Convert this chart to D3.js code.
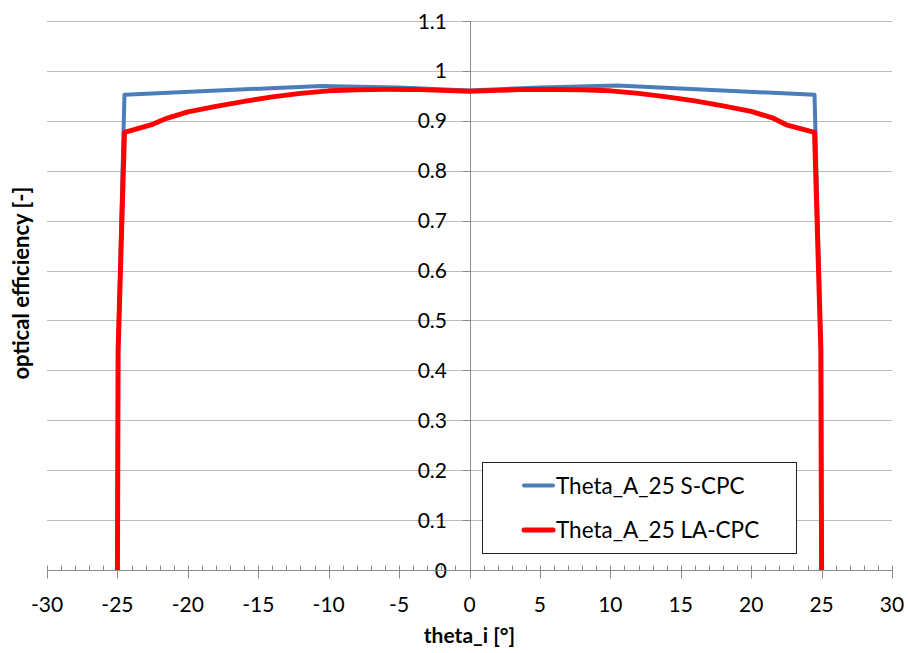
<!DOCTYPE html>
<html>
<head>
<meta charset="utf-8">
<script src="https://cdn.jsdelivr.net/npm/d3@7"></script>
<style>
  html, body { margin: 0; padding: 0; background: #fff; }
  svg { display: block; font-family: Lato, "Open Sans", "Liberation Sans", sans-serif; }
</style>
</head>
<body>
<svg id="chart" width="908" height="653"></svg>
<script>
// Incidence angle (deg) and optical efficiency for each concentrator
const sCpcTheta = [-25, -24.95, -24.5, -10.5, -5, 0, 5, 10.5, 24.5, 24.95, 25];
const sCpcEff   = [0, 0.44, 0.952, 0.970, 0.967, 0.961, 0.967, 0.971, 0.952, 0.44, 0];

const laCpcTheta = [-25, -24.95, -24.5, -22.5, -21.5, -20, -18, -16, -14, -12, -10, -8, -6, -4, -2, 0,
                    2, 4, 6, 8, 10, 12, 14, 16, 18, 20, 21.5, 22.5, 24.5, 24.95, 25];
const laCpcEff   = [0, 0.44, 0.877, 0.893, 0.905, 0.918, 0.929, 0.939, 0.948, 0.955, 0.960, 0.962, 0.963, 0.963, 0.961, 0.959,
                    0.961, 0.963, 0.963, 0.962, 0.960, 0.955, 0.948, 0.940, 0.930, 0.919, 0.906, 0.892, 0.877, 0.44, 0];

const xTicks = [-30, -25, -20, -15, -10, -5, 0, 5, 10, 15, 20, 25, 30];
const yTicks = [0, 0.1, 0.2, 0.3, 0.4, 0.5, 0.6, 0.7, 0.8, 0.9, 1, 1.1];

const seriesNames = ["Theta_A_25 S-CPC", "Theta_A_25 LA-CPC"];
const seriesColors = ["#4a7ebb", "#ff0000"];

const svg = d3.select("#chart");
const x = d3.scaleLinear().domain([-30, 30]).range([47, 892]);
const y = d3.scaleLinear().domain([0, 1.1]).range([570, 21]);

// horizontal gridlines
svg.append("g").selectAll("line").data(yTicks.filter(d => d > 0)).join("line")
  .attr("x1", x(-30)).attr("x2", x(30))
  .attr("y1", d => Math.round(y(d)) + 0.5).attr("y2", d => Math.round(y(d)) + 0.5)
  .attr("stroke", "#bcbcbc").attr("stroke-width", 1);

// y axis line at theta = 0
const y0x = Math.round(x(0)) + 0.5;
svg.append("line").attr("x1", y0x).attr("x2", y0x)
  .attr("y1", y(1.1)).attr("y2", y(0))
  .attr("stroke", "#8c8c8c").attr("stroke-width", 1);
svg.append("g").selectAll("line").data(yTicks).join("line")
  .attr("x1", y0x - 8).attr("x2", y0x)
  .attr("y1", d => Math.round(y(d)) + 0.5).attr("y2", d => Math.round(y(d)) + 0.5)
  .attr("stroke", "#8c8c8c");
svg.append("g").selectAll("text").data(yTicks).join("text")
  .attr("x", 447).attr("y", d => y(d))
  .attr("dy", "0.36em")
  .attr("text-anchor", "end")
  .attr("font-size", 21).attr("fill", "#000")
  .text(d => d3.format("~g")(d));

// x axis at efficiency = 0
const axY = Math.round(y(0)) + 0.5;
svg.append("line").attr("x1", x(-30)).attr("x2", x(30))
  .attr("y1", axY).attr("y2", axY)
  .attr("stroke", "#8c8c8c");
svg.append("g").selectAll("line").data(d3.range(-30, 31).filter(d => d % 5 !== 0)).join("line")
  .attr("x1", d => Math.round(x(d)) + 0.5).attr("x2", d => Math.round(x(d)) + 0.5)
  .attr("y1", axY - 5).attr("y2", axY)
  .attr("stroke", "#8c8c8c");
svg.append("g").selectAll("line").data(xTicks).join("line")
  .attr("x1", d => Math.round(x(d)) + 0.5).attr("x2", d => Math.round(x(d)) + 0.5)
  .attr("y1", axY - 5).attr("y2", axY + 8)
  .attr("stroke", "#8c8c8c");
svg.append("g").selectAll("text").data(xTicks).join("text")
  .attr("x", d => x(d)).attr("y", 612)
  .attr("text-anchor", "middle")
  .attr("font-size", 21).attr("fill", "#000")
  .text(d => d);

// axis titles
svg.append("text").attr("x", x(0)).attr("y", 643)
  .attr("text-anchor", "middle").attr("font-size", 21).attr("font-weight", "bold")
  .text("theta_i [°]");
svg.append("text")
  .attr("transform", `translate(29, ${y(0.575)}) rotate(-90)`)
  .attr("text-anchor", "middle").attr("font-size", 22).attr("font-weight", "bold")
  .text("optical efficiency [-]");

// series
const line = d3.line().x(d => x(d[0])).y(d => y(d[1]));
const series = [
  d3.zip(sCpcTheta, sCpcEff),
  d3.zip(laCpcTheta, laCpcEff)
];
const widths = [4, 5];
series.forEach((pts, i) => {
  svg.append("path").datum(pts)
    .attr("d", line)
    .attr("fill", "none")
    .attr("stroke", seriesColors[i])
    .attr("stroke-width", widths[i])
    .attr("stroke-linejoin", "round");
});

// legend
const lg = svg.append("g");
lg.append("rect").attr("x", 482.5).attr("y", 462.5).attr("width", 314).attr("height", 91)
  .attr("fill", "#fff").attr("stroke", "#222").attr("stroke-width", 1);
seriesNames.forEach((name, i) => {
  const ly = 485.5 + i * 44.5;
  lg.append("line").attr("x1", 524).attr("x2", 553).attr("y1", ly).attr("y2", ly)
    .attr("stroke", seriesColors[i]).attr("stroke-width", widths[i]).attr("stroke-linecap", "round");
  lg.append("text").attr("x", 556).attr("y", ly).attr("dy", "0.36em")
    .attr("font-size", 22.5).text(name);
});
</script>
</body>
</html>
